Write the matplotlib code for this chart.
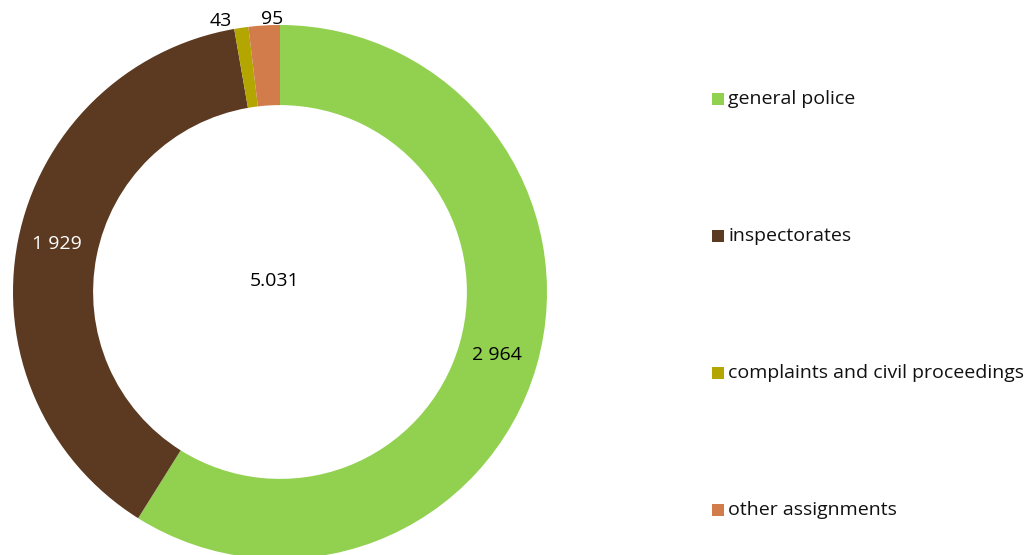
import matplotlib.pyplot as plt
import numpy as np
from matplotlib.patches import Rectangle

categories = [
    "general police",
    "inspectorates",
    "complaints and civil proceedings",
    "other assignments",
]
values = [2964, 1929, 43, 95]
value_labels = ["2 964", "1 929", "43", "95"]
total_label = "5.031"
colors = ["#92D050", "#5C3A22", "#B3A600", "#D27B4B"]
label_colors = ["#000000", "#FFFFFF", "#000000", "#000000"]

plt.rcParams["font.family"] = ["Open Sans", "DejaVu Sans"]
FS = 14

W, H = 1027, 555
fig = plt.figure(figsize=(W / 100, H / 100), dpi=100)

# ring: centre (280, 292) px from top-left, outer radius 267 px
cx, cy, r = 280, 292, 267
ax = fig.add_axes([(cx - r) / W, (H - cy - r) / H, 2 * r / W, 2 * r / H])

wedges, _ = ax.pie(
    values,
    colors=colors,
    startangle=90,
    counterclock=False,
    radius=1,
    wedgeprops=dict(width=0.3, linewidth=0),
)
ax.set_xlim(-1, 1)
ax.set_ylim(-1, 1)
ax.set_aspect("equal")
ax.axis("off")

# label radius and angular nudge for each wedge
label_r = [0.847, 0.855, 1.04, 1.022]
label_shift = [0.0, -1.0, 4.0, -1.7]
for w, text, col, lr, sh in zip(wedges, value_labels, label_colors, label_r, label_shift):
    mid = np.deg2rad((w.theta1 + w.theta2) / 2 + sh)
    ax.text(lr * np.cos(mid), lr * np.sin(mid), text, color=col,
            ha="center", va="center", fontsize=FS, clip_on=False)

ax.text(-0.02, 0.04, total_label, ha="center", va="center", fontsize=FS)

# legend, one entry per category spread down the right side
leg_y = [99, 236, 373, 510]
for name, col, y in zip(categories, colors, leg_y):
    fig.patches.append(Rectangle((712 / W, (H - y - 5.75) / H), 11.5 / W, 11.5 / H,
                                 transform=fig.transFigure, facecolor=col,
                                 edgecolor="none"))
    fig.text(728 / W, (H - y) / H, name, ha="left", va="center",
             fontsize=FS, color="#111111")

fig.savefig("out.png", dpi=100)
